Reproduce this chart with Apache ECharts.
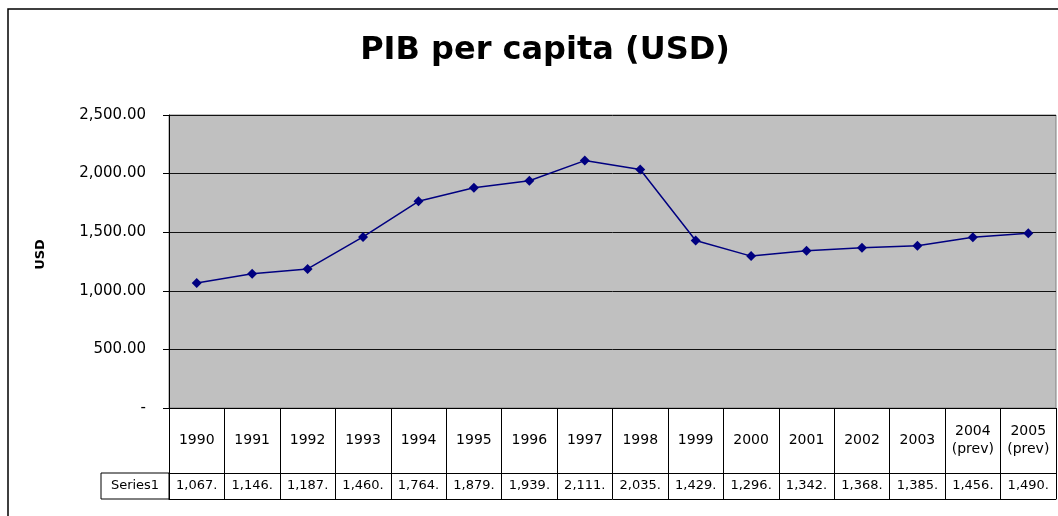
<!DOCTYPE html>
<html>
<head>
<meta charset="utf-8">
<script src="https://cdn.jsdelivr.net/npm/echarts@6/dist/echarts.min.js"></script>
<style>
html,body{margin:0;padding:0;background:#fff;}
#chart{width:1058px;height:516px;}
</style>
</head>
<body>
<div id="chart"></div>
<script>
var titleText = 'PIB per capita (USD)';
var yAxisName = 'USD';
var seriesName = 'Series1';
var categories = ['1990','1991','1992','1993','1994','1995','1996','1997','1998','1999','2000','2001','2002','2003','2004\n(prev)','2005\n(prev)'];
var values = [1067, 1146, 1187, 1460, 1764, 1879, 1939, 2111, 2035, 1429, 1296, 1342, 1368, 1385, 1456, 1490];
var yTicks = [0, 500, 1000, 1500, 2000, 2500];

var FONT = 'DejaVu Sans';
var valueLabels = values.map(function (v) {
  return Math.floor(v).toLocaleString('en-US') + '.';
});

var chart = echarts.init(document.getElementById('chart'), null, {renderer: 'canvas'});
chart.setOption({
  animation: false,
  backgroundColor: '#fff',
  title: {
    text: titleText,
    left: 540,
    top: 30,
    textAlign: 'center',
    textStyle: {fontFamily: FONT, fontWeight: 'bold', fontSize: 32, color: '#000'}
  },
  grid: {
    left: 169, right: 2, top: 115, bottom: 108,
    show: true, backgroundColor: '#C0C0C0', borderColor: '#808080', borderWidth: 1
  },
  xAxis: [
    {
      type: 'category', data: categories, position: 'bottom', boundaryGap: true,
      axisLine: {show: true, lineStyle: {color: '#000', width: 1}},
      axisTick: {show: true, interval: 0, length: 91, lineStyle: {color: '#000', width: 1}},
      axisLabel: {interval: 0, margin: 32, verticalAlign: 'middle', lineHeight: 18,
        fontFamily: FONT, fontSize: 14, color: '#000'},
      splitLine: {show: false}
    },
    {
      type: 'category', data: valueLabels, position: 'bottom', offset: 65, boundaryGap: true,
      axisLine: {show: true, lineStyle: {color: '#000', width: 1}},
      axisTick: {show: false},
      axisLabel: {interval: 0, margin: 13, verticalAlign: 'middle',
        fontFamily: FONT, fontSize: 13, color: '#000'},
      splitLine: {show: false}
    },
    {
      type: 'category', data: categories, position: 'bottom', offset: 91, boundaryGap: true,
      axisLine: {show: true, lineStyle: {color: '#000', width: 1}},
      axisTick: {show: false},
      axisLabel: {show: false},
      splitLine: {show: false}
    }
  ],
  yAxis: {
    type: 'value', min: yTicks[0], max: yTicks[yTicks.length - 1], interval: 500,
    name: yAxisName, nameLocation: 'middle', nameGap: 122, nameRotate: 90,
    nameTextStyle: {fontFamily: FONT, fontWeight: 'bold', fontSize: 13, color: '#000', padding: [0, 0, 0, 14]},
    axisLine: {show: true, lineStyle: {color: '#000', width: 1}},
    axisTick: {show: true, length: 6, lineStyle: {color: '#000', width: 1}},
    axisLabel: {
      margin: 23, fontFamily: FONT, fontSize: 15, color: '#000',
      formatter: function (v) {
        return v === 0 ? '-' : v.toLocaleString('en-US', {minimumFractionDigits: 2, maximumFractionDigits: 2});
      }
    },
    splitLine: {show: true, lineStyle: {color: '#111', width: 1}}
  },
  graphic: [
    {type: 'rect', shape: {x: 8, y: 9, width: 1200, height: 700},
      style: {fill: 'none', stroke: '#000', lineWidth: 1.5}, silent: true},
    {type: 'rect', shape: {x: 101, y: 473, width: 68, height: 26},
      style: {fill: 'none', stroke: '#000', lineWidth: 1}, silent: true},
    {type: 'text', x: 135, y: 486,
      style: {text: seriesName, font: '13px "DejaVu Sans"', fill: '#000', align: 'center', verticalAlign: 'middle'}}
  ],
  series: [{
    name: seriesName, type: 'line', xAxisIndex: 0, data: values,
    symbol: 'diamond', symbolSize: 10,
    lineStyle: {color: '#000080', width: 1.5},
    itemStyle: {color: '#000080'}
  }]
});
</script>
</body>
</html>
